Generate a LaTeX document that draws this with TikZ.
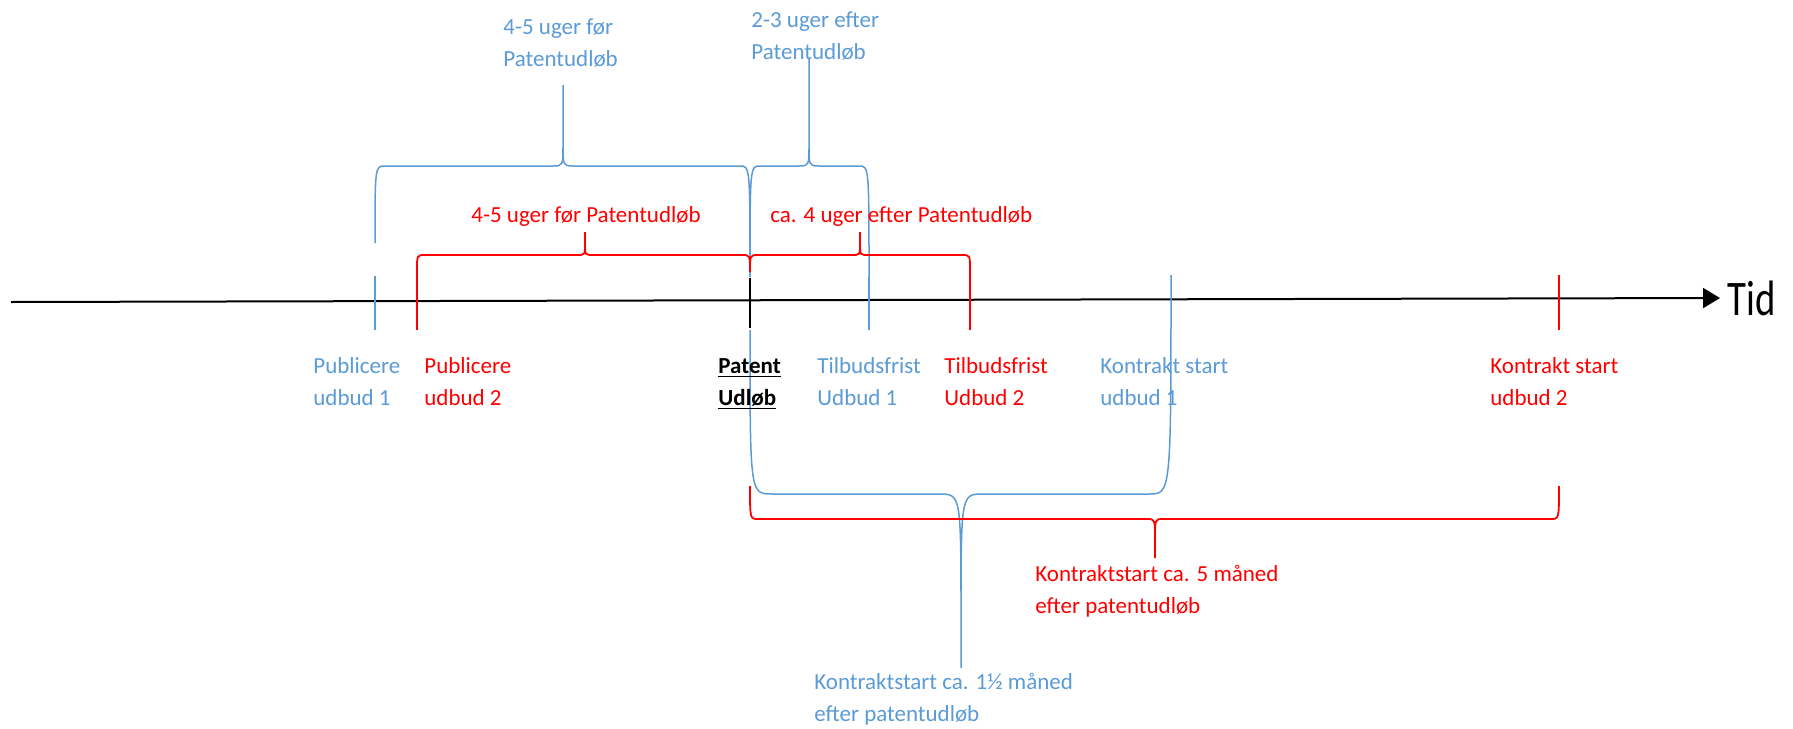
\documentclass[tikz,border=0pt]{standalone}
\usepackage{graphicx}
\usepackage{fontspec}
\setmainfont{Carlito}
\usetikzlibrary{arrows.meta}
\definecolor{tlblue}{HTML}{5B9BD5}
\definecolor{tlred}{HTML}{FF0000}
% brace: x1, x2, y end 1, y end 2, y line, x tip, y join, y tip, corner
\newcommand{\tlbrace}[9]{%
  \draw (#1,#3) .. controls (#1,#5) .. ({#1+#9},#5) -- ({#6-#9},#5)
    .. controls (#6,#5) .. (#6,#7) -- (#6,#8)
    (#6,#7) .. controls (#6,#5) .. ({#6+#9},#5) -- ({#2-#9},#5)
    .. controls (#2,#5) .. (#2,#4);}

\begin{document}
\begin{tikzpicture}[x=0.5pt,y=-0.5pt,
  lbl/.style={anchor=base west, inner sep=0, align=left,
    font=\fontsize{11.5}{16}\selectfont},
  bl/.style={tlblue, line width=0.75pt},
  rd/.style={tlred, line width=0.9pt}]
\useasboundingbox (0,0) rectangle (1793,728);

% time axis
\coordinate (axl) at (11,302);
\coordinate (axr) at (1720,298);
\draw[line width=1pt, -{Triangle[length=8.5pt,width=10pt]}] (axl) -- (axr);
\node[anchor=base west, inner sep=0, font=\fontsize{22}{26}\selectfont] (tid) at (1727,315)
  {\scalebox{0.88}[1.13]{Tid}};

% ticks
\draw[bl] (375,276) -- (375,330);
\draw[rd] (417,270) -- (417,330);
\draw[line width=1pt] (750,278) -- (750,328);
\draw[bl] (869,277) -- (869,330);
\draw[rd] (970,270) -- (970,330);
\draw[rd] (1559,275) -- (1559,330);

% braces
\begin{scope}[bl]
\tlbrace{375}{750}{243}{277}{166}{563}{143}{85}{10}
\tlbrace{750}{869}{277}{277}{166}{809}{143}{58}{10}
\tlbrace{750}{1171}{330}{275}{494}{961}{620}{668}{22}
\end{scope}
\begin{scope}[rd]
\tlbrace{417}{750}{270}{272}{255}{585}{243}{232}{8}
\tlbrace{750}{970}{272}{270}{255}{860}{243}{232}{8}
\tlbrace{750}{1559}{486}{486}{519}{1155}{540}{558}{8}
\end{scope}

% labels below the axis (y = baseline of last line)
\node[lbl, tlblue] (pub1) at (313,405) {Publicere\\udbud 1};
\node[lbl, tlred] (pub2) at (424,405) {Publicere\\udbud 2};
\node[lbl, font=\fontsize{11.5}{16}\selectfont\bfseries] (udl) at (718,405)
  {\underline{Patent}\\\underline{Udløb}};
\node[lbl, tlblue] (tb1) at (817,405) {Tilbudsfrist\\Udbud 1};
\node[lbl, tlred] (tb2) at (944,405) {Tilbudsfrist\\Udbud 2};
\node[lbl, tlblue] (ks1) at (1100,405) {Kontrakt start\\udbud 1};
\node[lbl, tlred] (ks2) at (1490,405) {Kontrakt start\\udbud 2};

% brace labels
\node[lbl, tlblue] (foer1) at (503,66) {4-5 uger før\\Patentudløb};
\node[lbl, tlblue] (efter1) at (751,59) {2-3 uger efter\\Patentudløb};
\node[lbl, tlred] (foer2) at (471,222) {4-5 uger før Patentudløb};
\node[lbl, tlred] (efter2) at (770,222) {ca. 4 uger efter Patentudløb};
\node[lbl, tlred] (kontr2) at (1035,613) {Kontraktstart ca. 5 måned\\efter patentudløb};
\node[lbl, tlblue] (kontr1) at (814,721) {Kontraktstart ca. 1½ måned\\efter patentudløb};
\end{tikzpicture}
\end{document}
